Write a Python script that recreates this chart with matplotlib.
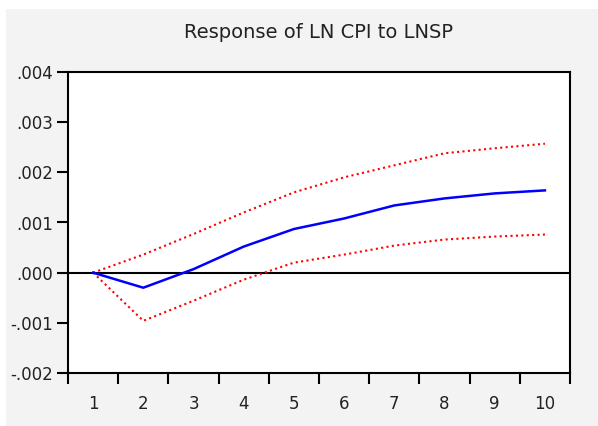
import matplotlib

matplotlib.use("Agg")
import matplotlib.pyplot as plt  # noqa: E402
from matplotlib.patches import Rectangle  # noqa: E402

# impulse response values
periods = [1, 2, 3, 4, 5, 6, 7, 8, 9, 10]
response = [0.0, -0.00030, 0.00007, 0.00052, 0.00087, 0.00108, 0.00134, 0.00148, 0.00158, 0.00164]
upper_band = [0.0, 0.00036, 0.00077, 0.00120, 0.00160, 0.00190, 0.00214, 0.00238, 0.00248, 0.00257]
lower_band = [0.0, -0.00096, -0.00056, -0.00014, 0.00020, 0.00036, 0.00054, 0.00066, 0.00072, 0.00076]

y_ticks = [-0.002, -0.001, 0.0, 0.001, 0.002, 0.003, 0.004]
y_labels = ["-.002", "-.001", ".000", ".001", ".002", ".003", ".004"]
title = "Response of LN CPI to LNSP"

plt.rcParams["font.family"] = ["DejaVu Sans"]

fig = plt.figure(figsize=(5.98, 4.26), dpi=100, facecolor="white")
fig.patches.append(Rectangle((6 / 598, 0), 1, 1 - 9 / 426, transform=fig.transFigure,
                             facecolor="#f3f3f3", edgecolor="none", zorder=-10))
ax = fig.add_axes([68 / 598, 1 - 373 / 426, (570 - 68) / 598, (373 - 72) / 426])
ax.set_facecolor("white")

ax.axhline(0, color="black", lw=1.5, zorder=1)
ax.plot(periods, response, color="#0000ff", lw=1.8, zorder=3)
ax.plot(periods, upper_band, color="#ff0000", lw=1.5, ls=(0, (1, 1.6)), zorder=2)
ax.plot(periods, lower_band, color="#ff0000", lw=1.5, ls=(0, (1, 1.6)), zorder=2)

ax.set_xlim(0.5, 10.5)
ax.set_ylim(-0.002, 0.004)

# labels at integers, tick marks between periods
ax.set_xticks(periods)
ax.set_xticklabels([str(p) for p in periods])
ax.set_xticks([p - 0.5 for p in periods] + [10.5], minor=True)
ax.tick_params(axis="x", which="major", length=0, pad=16, labelsize=12, labelcolor="#222222")
ax.tick_params(axis="x", which="minor", length=8, width=1.5, direction="out")

ax.set_yticks(y_ticks)
ax.set_yticklabels(y_labels)
ax.tick_params(axis="y", length=8, width=1.5, direction="out", pad=3, labelsize=12,
               labelcolor="#222222")

for side in ["left", "bottom", "top", "right"]:
    ax.spines[side].set_linewidth(1.5)

fig.text(319 / 598, 1 - 32 / 426, title, ha="center", va="center", fontsize=14, color="#222222")

fig.savefig("out.png", dpi=100, facecolor=fig.get_facecolor())
plt.close(fig)
